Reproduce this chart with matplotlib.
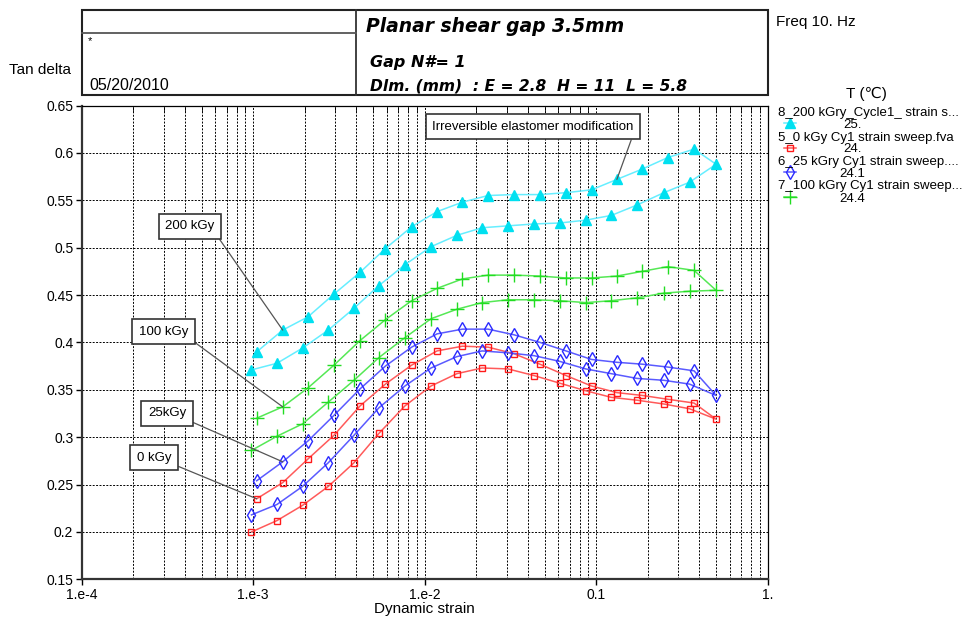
import matplotlib.pyplot as plt
import matplotlib.lines as mlines
import matplotlib.patches as mpatches
from matplotlib.ticker import FixedLocator, FixedFormatter, LogLocator, NullFormatter

W, H = 965, 619
narrow = ['Liberation Sans Narrow', 'Liberation Sans', 'DejaVu Sans']
plt.rcParams['font.family'] = ['Liberation Sans', 'DejaVu Sans']

# strain of the first sweep (going up, lower curves) and the return sweep (upper curves)
strain_sweep1 = [0.000977, 0.001377, 0.001939, 0.00274, 0.00387, 0.00541, 0.00767,
                 0.01089, 0.0154, 0.0216, 0.0306, 0.0434, 0.0612, 0.0869, 0.1225,
                 0.173, 0.248, 0.350, 0.500]
strain_sweep2 = [0.001048, 0.001486, 0.002087, 0.002958, 0.0042, 0.0059, 0.00839,
                 0.0118, 0.0166, 0.0234, 0.0332, 0.047, 0.0667, 0.0939, 0.132,
                 0.186, 0.261, 0.372]

tan_200_sweep1 = [0.371, 0.378, 0.394, 0.413, 0.436, 0.460, 0.482, 0.501, 0.513, 0.521,
                  0.523, 0.525, 0.526, 0.529, 0.534, 0.545, 0.558, 0.569, 0.588]
tan_200_sweep2 = [0.390, 0.413, 0.427, 0.451, 0.474, 0.499, 0.522, 0.538, 0.548, 0.555,
                  0.556, 0.556, 0.558, 0.561, 0.572, 0.583, 0.595, 0.604]

tan_0_sweep1 = [0.200, 0.212, 0.228, 0.248, 0.273, 0.304, 0.333, 0.354, 0.367, 0.373,
                0.372, 0.365, 0.357, 0.349, 0.342, 0.339, 0.335, 0.330, 0.319]
tan_0_sweep2 = [0.235, 0.252, 0.277, 0.302, 0.333, 0.356, 0.376, 0.391, 0.396, 0.395,
                0.388, 0.377, 0.365, 0.354, 0.347, 0.344, 0.340, 0.336]

tan_25_sweep1 = [0.218, 0.229, 0.248, 0.273, 0.302, 0.331, 0.354, 0.373, 0.385, 0.391,
                 0.389, 0.386, 0.380, 0.372, 0.367, 0.362, 0.360, 0.356, 0.344]
tan_25_sweep2 = [0.254, 0.274, 0.296, 0.323, 0.351, 0.375, 0.395, 0.409, 0.414, 0.414,
                 0.408, 0.400, 0.391, 0.382, 0.379, 0.377, 0.374, 0.370]

tan_100_sweep1 = [0.286, 0.301, 0.314, 0.337, 0.360, 0.384, 0.405, 0.425, 0.435, 0.442,
                  0.445, 0.445, 0.444, 0.442, 0.444, 0.447, 0.452, 0.454, 0.455]
tan_100_sweep2 = [0.320, 0.332, 0.352, 0.376, 0.402, 0.424, 0.444, 0.457, 0.467, 0.471,
                  0.471, 0.470, 0.468, 0.468, 0.470, 0.475, 0.480, 0.476]

legend_names = ['8_200 kGry_Cycle1_ strain s...', '5_0 kGy Cy1 strain sweep.fva',
                '6_25 kGry Cy1 strain sweep....', '7_100 kGry Cy1 strain sweep...']
legend_temps = ['25.', '24.', '24.1', '24.4']

x_ticks = [1e-4, 1e-3, 1e-2, 0.1, 1.0]
x_ticklabels = ['1.e-4', '1.e-3', '1.e-2', '0.1', '1.']
y_ticks = [0.15, 0.2, 0.25, 0.3, 0.35, 0.4, 0.45, 0.5, 0.55, 0.6, 0.65]
y_ticklabels = ['0.15', '0.2', '0.25', '0.3', '0.35', '0.4', '0.45', '0.5', '0.55', '0.6', '0.65']


def fx(px):
    return px / W


def fy(py):
    return 1 - py / H


fig = plt.figure(figsize=(W / 100, H / 100), dpi=100)
ax = fig.add_axes([fx(81.7), fy(579.3), (767.7 - 81.7) / W, (579.3 - 105.5) / H])

ax.set_xscale('log')
ax.set_xlim(1e-4, 1.0)
ax.set_ylim(0.15, 0.65)

# (marker, marker colour, size, filled, line colour)
mark_0 = ('s', '#ff1a1a', 3.8, False, '#ff5a5a')
mark_25 = ('d', '#2a2aff', 7, False, '#5a5aff')
mark_100 = ('+', '#22dd22', 10.5, False, '#55e855')
mark_200 = ('^', '#00e0f0', 7, True, '#66eeff')

series = [
    (tan_0_sweep1, tan_0_sweep2, mark_0),
    (tan_25_sweep1, tan_25_sweep2, mark_25),
    (tan_100_sweep1, tan_100_sweep2, mark_100),
    (tan_200_sweep1, tan_200_sweep2, mark_200),
]
for s1, s2, (mk, mc, ms, filled, lc) in series:
    xs = strain_sweep1 + strain_sweep2[::-1]
    ys = s1 + s2[::-1]
    ax.plot(xs, ys, color=lc, lw=1.1, zorder=3)
    ax.plot(xs, ys, ls='none', marker=mk, ms=ms, mec=mc,
            mfc=mc if filled else 'none', mew=1.0, zorder=4)

# grid and ticks
ax.xaxis.set_major_locator(FixedLocator(x_ticks))
ax.xaxis.set_major_formatter(FixedFormatter(x_ticklabels))
ax.xaxis.set_minor_locator(LogLocator(base=10, subs=range(2, 10)))
ax.xaxis.set_minor_formatter(NullFormatter())
ax.yaxis.set_major_locator(FixedLocator(y_ticks))
ax.yaxis.set_major_formatter(FixedFormatter(y_ticklabels))
ax.grid(True, which='both', axis='x', color='black', ls=(0, (2, 1.5)), lw=0.7, zorder=1)
ax.grid(True, which='major', axis='y', color='black', ls=(0, (2, 1.5)), lw=0.7, zorder=1)
ax.set_axisbelow(True)
ax.tick_params(axis='both', which='major', direction='out', length=4, width=1,
               labelsize=10, pad=2)
ax.tick_params(axis='x', which='minor', direction='in', length=4, top=True, bottom=False)
for lab in ax.get_xticklabels() + ax.get_yticklabels():
    lab.set_family(narrow)
for side in ['left', 'bottom']:
    ax.spines[side].set_linewidth(1.6)
    ax.spines[side].set_color('#333333')
for side in ['top', 'right']:
    ax.spines[side].set_linewidth(0.9)

ax.set_xlabel('Dynamic strain', fontsize=11, family=narrow, labelpad=0)

# annotation boxes
box = dict(boxstyle='square,pad=0.5', fc='white', ec='#333333', lw=1.2)
arrow = dict(arrowstyle='-', color='#555555', lw=0.9, relpos=(1, 0), shrinkA=0, shrinkB=0)
ax.annotate('200 kGy', xy=(strain_sweep2[1], tan_200_sweep2[1]), xytext=(0.158, 0.745),
            textcoords='axes fraction', ha='center', va='center', fontsize=9.5,
            bbox=box, arrowprops=arrow, zorder=6)
ax.annotate('100 kGy', xy=(strain_sweep2[1], tan_100_sweep2[1]), xytext=(0.1195, 0.5226),
            textcoords='axes fraction', ha='center', va='center', fontsize=9.5,
            bbox=box, arrowprops=arrow, zorder=6)
ax.annotate('25kGy', xy=(strain_sweep2[1], tan_25_sweep2[1]), xytext=(0.1246, 0.350),
            textcoords='axes fraction', ha='center', va='center', fontsize=9.5,
            bbox=box, arrowprops=arrow, zorder=6)
ax.annotate('0 kGy', xy=(strain_sweep2[0], tan_0_sweep2[0]), xytext=(0.1057, 0.257),
            textcoords='axes fraction', ha='center', va='center', fontsize=9.5,
            bbox=box, arrowprops=arrow, zorder=6)
ax.annotate('Irreversible elastomer modification', xy=(strain_sweep2[14], tan_200_sweep2[14]),
            xytext=(0.658, 0.955), textcoords='axes fraction', ha='center', va='center',
            fontsize=9.5, bbox=box, arrowprops=arrow, zorder=6)

# header block
fig.patches.append(mpatches.Rectangle((fx(82), fy(95)), fx(768) - fx(82), fy(10) - fy(95),
                                      transform=fig.transFigure, fill=False, ec='#222222', lw=1.5))
fig.lines.append(mlines.Line2D([fx(356), fx(356)], [fy(10), fy(95)], transform=fig.transFigure,
                               color='#333333', lw=1.3))
fig.lines.append(mlines.Line2D([fx(82), fx(356)], [fy(33), fy(33)], transform=fig.transFigure,
                               color='#555555', lw=1.3))
fig.text(fx(88), fy(41), '*', fontsize=8, va='center')
fig.text(fx(89), fy(85), '05/20/2010', fontsize=11.5, va='center', family=narrow)
fig.text(fx(366), fy(27), 'Planar shear gap 3.5mm', fontsize=13.5, weight='bold',
         style='italic', va='center', family='DejaVu Sans')
fig.text(fx(370), fy(63), 'Gap N#= 1', fontsize=11.5, weight='bold', style='italic',
         va='center', family='DejaVu Sans')
fig.text(fx(370), fy(86), 'Dlm. (mm)  : E = 2.8  H = 11  L = 5.8', fontsize=11.2,
         weight='bold', style='italic', va='center', family='DejaVu Sans')
fig.text(fx(776), fy(22), 'Freq 10. Hz', fontsize=11, va='center', family=narrow)
fig.text(fx(9), fy(70), 'Tan delta', fontsize=11, va='center', family=narrow)

# legend on the right
fig.text(fx(866), fy(94), 'T (\u2103)', fontsize=11, ha='center', va='center')
legend_marks = [mark_200, mark_0, mark_25, mark_100]
for i, (name, temp, (mk, mc, ms, filled, lc)) in enumerate(zip(legend_names, legend_temps,
                                                               legend_marks)):
    y0 = 113 + 24.5 * i
    fig.text(fx(778), fy(y0), name, fontsize=9.5, va='center', family=narrow)
    fig.text(fx(852), fy(y0 + 12), temp, fontsize=9.5, ha='center', va='center', family=narrow)
    fig.lines.append(mlines.Line2D([fx(784), fx(796)], [fy(y0 + 10), fy(y0 + 10)],
                                   transform=fig.transFigure, color=lc, lw=1.1))
    fig.lines.append(mlines.Line2D([fx(790)], [fy(y0 + 10)], transform=fig.transFigure,
                                   ls='none', marker=mk, ms=ms, mec=mc,
                                   mfc=mc if filled else 'none', mew=1.0))

fig.savefig('out.png', dpi=100)
